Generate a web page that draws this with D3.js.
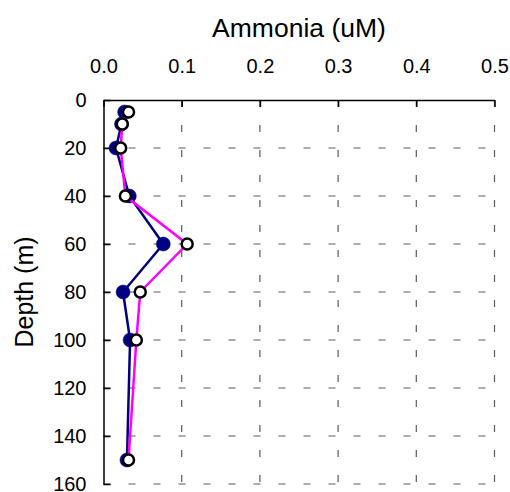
<!DOCTYPE html>
<html>
<head>
<meta charset="utf-8">
<script src="https://cdn.jsdelivr.net/npm/d3@7"></script>
<style>
  html, body { margin: 0; padding: 0; background: #fff; }
  svg { display: block; }
  text { font-family: "Liberation Sans", Arial, sans-serif; fill: #000; }
</style>
</head>
<body>
<svg id="chart" width="510" height="492"></svg>
<script>
// Data
const depthsNavy = [5, 10, 20, 40, 60, 80, 100, 150];
const ammoniaNavy = [0.027, 0.023, 0.016, 0.033, 0.0765, 0.025, 0.034, 0.030];
const depthsPink = [5, 10, 20, 40, 60, 80, 100, 150];
const ammoniaPink = [0.032, 0.024, 0.022, 0.028, 0.107, 0.047, 0.042, 0.032];
const xTicks = [0, 0.1, 0.2, 0.3, 0.4, 0.5];
const yTicks = [0, 20, 40, 60, 80, 100, 120, 140, 160];
const xTitle = "Ammonia (uM)";
const yTitle = "Depth (m)";

const svg = d3.select("#chart");
const pLeft = 103.5, pRight = 494.5, pTop = 100, pBottom = 484;

const x = d3.scaleLinear().domain([0, 0.5]).range([pLeft, pRight]);
const y = d3.scaleLinear().domain([0, 160]).range([pTop, pBottom]);

// Grid lines (dashed)
const grid = svg.append("g").attr("stroke", "#5a5a5a").attr("stroke-width", 1.2)
  .attr("stroke-dasharray", "7,18");
grid.selectAll("line.v").data(xTicks.slice(1)).join("line").attr("class", "v")
  .attr("x1", d => x(d)).attr("x2", d => x(d))
  .attr("y1", pTop).attr("y2", pBottom);
grid.selectAll("line.h").data(yTicks.slice(1)).join("line").attr("class", "h")
  .attr("x1", pLeft).attr("x2", pRight)
  .attr("y1", d => y(d)).attr("y2", d => y(d));

// Axes
const xAxis = d3.axisTop(x).tickValues(xTicks).tickFormat(d3.format(".1f"))
  .tickSizeInner(-7).tickSizeOuter(0).tickPadding(27);
const gx = svg.append("g").attr("transform", `translate(0,${pTop})`).call(xAxis);
gx.select(".domain").attr("stroke", "#000").attr("stroke-width", 1.5);
gx.selectAll(".tick line").attr("stroke", "#000").attr("stroke-width", 1.5);
gx.selectAll(".tick text").attr("font-size", 20).attr("font-family", "Liberation Sans, Arial, sans-serif");

const yAxis = d3.axisLeft(y).tickValues(yTicks).tickFormat(d3.format("d"))
  .tickSizeInner(-7).tickSizeOuter(0).tickPadding(17);
const gy = svg.append("g").attr("transform", `translate(${pLeft},0)`).call(yAxis);
gy.select(".domain").attr("stroke", "#000").attr("stroke-width", 1.5);
gy.selectAll(".tick line").attr("stroke", "#000").attr("stroke-width", 1.5);
gy.selectAll(".tick text").attr("font-size", 20).attr("font-family", "Liberation Sans, Arial, sans-serif");

// Titles
svg.append("text").attr("x", (pLeft + pRight) / 2).attr("y", 37)
  .attr("text-anchor", "middle").attr("font-size", 26.5).text(xTitle);
svg.append("text").attr("transform", `translate(33,${(pTop + pBottom) / 2}) rotate(-90)`)
  .attr("text-anchor", "middle").attr("font-size", 25).text(yTitle);

// Series
const navyData = depthsNavy.map((d, i) => ({ depth: d, v: ammoniaNavy[i] }));
const pinkData = depthsPink.map((d, i) => ({ depth: d, v: ammoniaPink[i] }));
const line = d3.line().x(d => x(d.v)).y(d => y(d.depth));

svg.append("path").datum(navyData).attr("d", line)
  .attr("fill", "none").attr("stroke", "#000080").attr("stroke-width", 2.5);
svg.append("g").selectAll("circle").data(navyData).join("circle")
  .attr("cx", d => x(d.v)).attr("cy", d => y(d.depth)).attr("r", 7)
  .attr("fill", "#000080").attr("stroke", "#000080").attr("stroke-width", 0.5);

svg.append("path").datum(pinkData).attr("d", line)
  .attr("fill", "none").attr("stroke", "#ff00ff").attr("stroke-width", 2.5);
svg.append("g").selectAll("circle").data(pinkData).join("circle")
  .attr("cx", d => x(d.v)).attr("cy", d => y(d.depth)).attr("r", 5.5)
  .attr("fill", "#fff").attr("stroke", "#000").attr("stroke-width", 2.5);
</script>
</body>
</html>
